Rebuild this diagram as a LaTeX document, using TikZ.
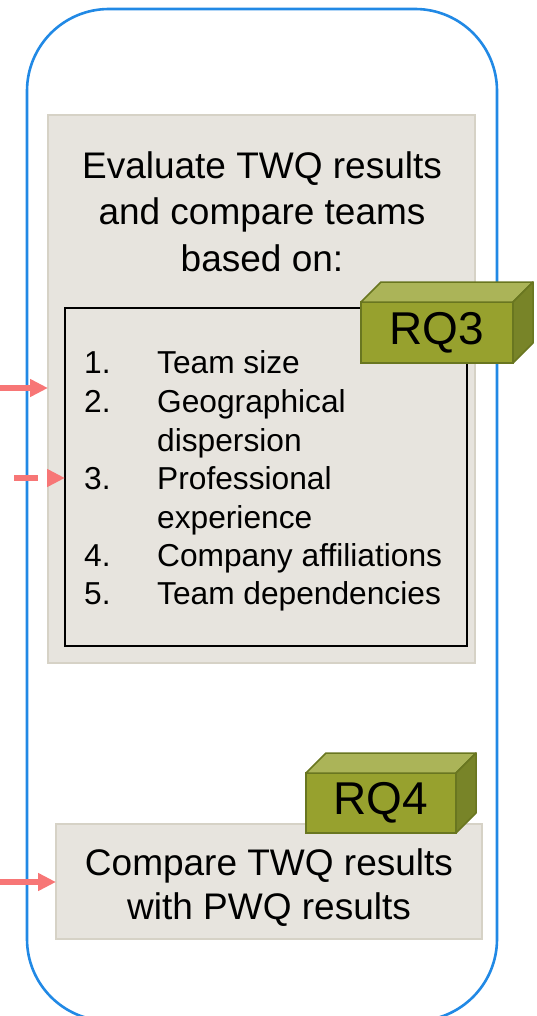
\documentclass[tikz,border=0pt]{standalone}
\usepackage{fontspec}
\setmainfont{Liberation Sans}
\usetikzlibrary{arrows.meta}

\definecolor{frameblue}{RGB}{33,137,229}
\definecolor{panelfill}{RGB}{231,228,222}
\definecolor{paneledge}{RGB}{214,210,198}
\definecolor{olivefront}{RGB}{151,161,46}
\definecolor{olivetop}{RGB}{171,180,88}
\definecolor{oliveside}{RGB}{120,132,40}
\definecolor{oliveedge}{RGB}{105,118,32}
\definecolor{flowred}{RGB}{247,118,118}

\tikzset{
  panel/.style={draw=paneledge, fill=panelfill, line width=1.5pt, outer sep=0pt, inner sep=0pt},
  listbox/.style={draw=black, fill=panelfill, line width=1.6pt, outer sep=0pt, inner sep=0pt},
  cubefront/.style={draw=oliveedge, fill=olivefront, line width=1.5pt, outer sep=0pt, inner sep=0pt,
    font=\fontsize{46}{46}\selectfont},
  cubetop/.style={draw=oliveedge, fill=olivetop, line width=1.5pt, line join=round},
  cubeside/.style={draw=oliveedge, fill=oliveside, line width=1.5pt, line join=round},
  headline/.style={anchor=base, inner sep=0pt, font=\fontsize{37}{46}\selectfont},
  itemtext/.style={anchor=base west, inner sep=0pt, font=\fontsize{31.7}{38}\selectfont},
  flowarrow/.style={draw=flowred, line width=5.5pt, -{Triangle[length=18pt,width=17pt]}},
}

\begin{document}
\begin{tikzpicture}[x=1pt, y=-1pt]
\useasboundingbox (0,0) rectangle (537,1016);
\clip (0,0) rectangle (537,1016);

% outer phase frame, running off the bottom edge
\draw[frameblue, line width=2.6pt, rounded corners=82pt] (27,9) rectangle (497,1021);

% evaluation panel
\node[panel, minimum width=427pt, minimum height=548pt, anchor=north west] (evalpanel) at (48,115) {};
\node[headline] (h1) at (262,179) {Evaluate TWQ results};
\node[headline] (h2) at (262,225) {and compare teams};
\node[headline] (h3) at (262,271) {based on:};

% criteria list
\node[listbox, minimum width=402pt, minimum height=338pt, anchor=north west] (criteria) at (65,308) {};
\node[itemtext] (n1) at (84,373) {1.};
\node[itemtext] (i1) at (157,373) {Team size};
\node[itemtext] (n2) at (84,412) {2.};
\node[itemtext] (i2) at (157,412) {Geographical};
\node[itemtext] (i2b) at (157,451) {dispersion};
\node[itemtext] (n3) at (84,489) {3.};
\node[itemtext] (i3) at (157,489) {Professional};
\node[itemtext] (i3b) at (157,528) {experience};
\node[itemtext] (n4) at (84,566) {4.};
\node[itemtext] (i4) at (157,566) {Company affiliations};
\node[itemtext] (n5) at (84,604) {5.};
\node[itemtext] (i5) at (157,604) {Team dependencies};

% RQ3 block
\node[cubefront, minimum width=152pt, minimum height=61pt] (rq3) at (437,332.5) {RQ3};
\draw[cubetop] (rq3.north west) -- ++(20,-20) -- ([shift={(20,-20)}]rq3.north east) -- (rq3.north east) -- cycle;
\draw[cubeside] (rq3.north east) -- ++(20,-20) -- ++(0,61) -- (rq3.south east) -- cycle;

% comparison box
\node[panel, minimum width=426pt, minimum height=115pt, anchor=north west] (compare) at (56,824) {};
\node[headline] (c1) at (269,875) {Compare TWQ results};
\node[headline] (c2) at (269,919) {with PWQ results};

% RQ4 block
\node[cubefront, minimum width=150pt, minimum height=60pt] (rq4) at (381,803) {RQ4};
\draw[cubetop] (rq4.north west) -- ++(20,-20) -- ([shift={(20,-20)}]rq4.north east) -- (rq4.north east) -- cycle;
\draw[cubeside] (rq4.north east) -- ++(20,-20) -- ++(0,60) -- (rq4.south east) -- cycle;

% incoming flows
\coordinate (src1) at (0,388);
\coordinate (src2) at (14,478);
\coordinate (src3) at (0,882);
\draw[flowarrow] (src1) -- (evalpanel.west |- src1);
\draw[flowarrow, dash pattern=on 24pt off 9pt] (src2) -- (criteria.west |- src2);
\draw[flowarrow] (src3) -- (compare.west |- src3);
\end{tikzpicture}
\end{document}
